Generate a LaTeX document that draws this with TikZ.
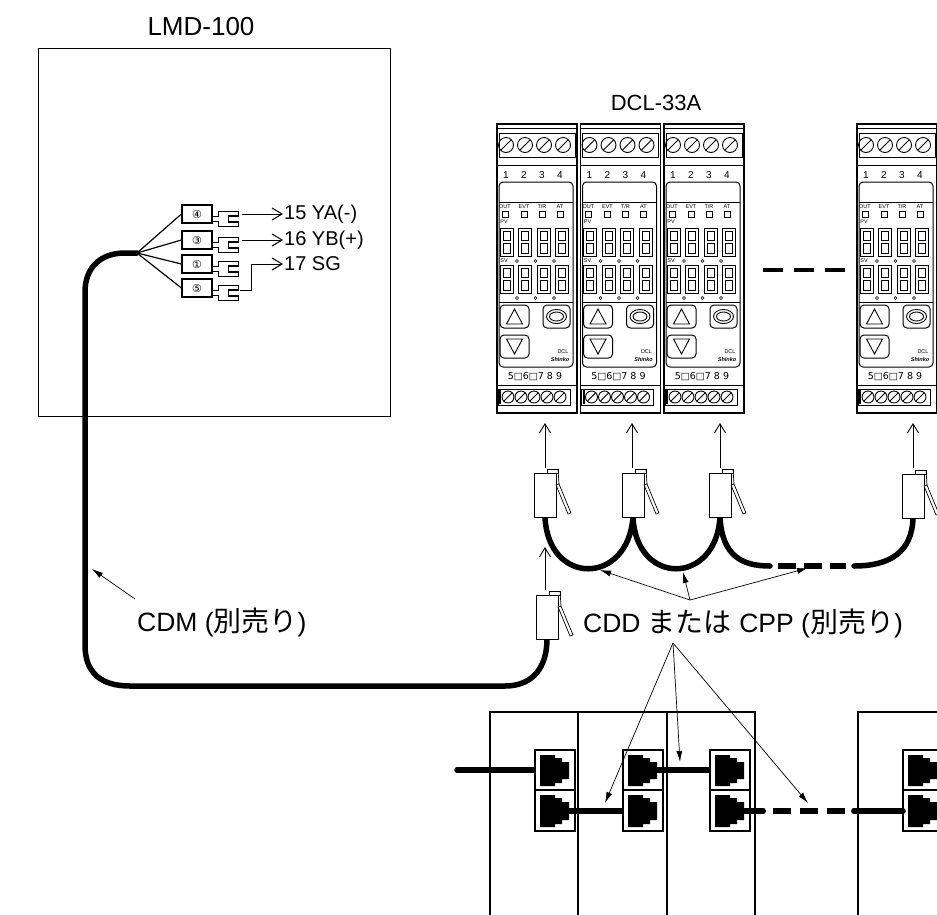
\documentclass[tikz,border=0pt]{standalone}
\usepackage{fontspec}
\setmainfont{Liberation Sans}
\newfontfamily\jpfont{Noto Sans CJK JP}
\newfontfamily\dvfont{DejaVu Sans}
\usetikzlibrary{arrows.meta}
\newcommand\segdigit[2]{%
  \draw (#1,#2) rectangle +(13,28);
  \draw (#1+3,#2+3) rectangle (#1+10,#2+12.5);
  \draw (#1+3,#2+15.5) rectangle (#1+10,#2+25);}
\newcommand\jpw[1]{{\jpfont\fontsize{28}{30}\selectfont #1}}
\begin{document}
\begin{tikzpicture}[x=1pt,y=-1pt,
  big/.style={font=\fontsize{22}{26}\selectfont, inner sep=0pt},
  bigger/.style={font=\fontsize{26.5}{30}\selectfont, inner sep=0pt},
  small/.style={font=\fontsize{20}{22}\selectfont, inner sep=1pt},
  tiny/.style={font=\fontsize{5.5}{6}\selectfont, inner sep=0pt},
  tbox/.style={draw, line width=1.2pt, minimum width=30pt, minimum height=18pt, inner sep=0pt, font=\dvfont\fontsize{11}{11}\selectfont},
  cable/.style={line width=5.5pt, line cap=round, line join=round},
  labarr/.style={line width=1pt, -{Straight Barb[length=10pt,width=12pt]}},
  uparr/.style={line width=0.9pt, -{Straight Barb[length=9pt,width=11pt]}},
  callout/.style={line width=0.7pt, -{Latex[length=11pt,width=6pt]}},
  dcl/.pic={
    \draw[line width=1.2pt] (0,0) rectangle (80,289);
    \draw[line width=0.8pt] (0,4) -- (80,4);
    \draw[line width=1pt] (2,9) rectangle (78,33);
    \foreach \s in {9,28,47,66}{
      \draw[line width=0.9pt] (\s,21) circle[radius=7.5pt];
      \draw[line width=0.9pt] (\s-5,26) -- (\s+5,16);}
    \draw[line width=1pt] (0,41) -- (80,41);
    \foreach \n/\s in {1/9,2/27,3/45,4/63}
      \node[font=\fontsize{10}{10}\selectfont, inner sep=0pt] at (\s,51) {\n};
    \draw[line width=1pt, rounded corners=4pt] (2,58) rectangle (76,243);
    \draw[line width=0.8pt] (2,78) -- (76,78);
    \node[tiny] at (8,83) {OUT};
    \node[tiny] at (27,83) {EVT};
    \node[tiny] at (45,83) {T/R};
    \node[tiny] at (63,83) {AT};
    \foreach \s in {8,27,45,63} \draw[line width=0.6pt] (\s-3,87) rectangle (\s+3,93);
    \node[tiny] at (7,98) {PV};
    \begin{scope}[line width=0.6pt]
      \segdigit{3}{104}\segdigit{21.5}{104}\segdigit{40}{104}\segdigit{58.5}{104}
      \segdigit{3}{141}\segdigit{21.5}{141}\segdigit{40}{141}\segdigit{58.5}{141}
      \foreach \s in {20,38.5,57}{
        \draw (\s,137) circle[radius=1.5pt];
        \draw (\s,174) circle[radius=1.5pt];}
    \end{scope}
    \node[tiny] at (7,137) {SV};
    \draw[line width=0.8pt] (2,178) -- (76,178);
    \draw[line width=1pt, rounded corners=4pt] (3,181) rectangle (32,204);
    \draw[line width=0.9pt] (9.5,200) -- (25.5,200) -- (17.5,185) -- cycle;
    \draw[line width=1pt, rounded corners=4pt] (46,181) rectangle (73,204);
    \draw[line width=0.9pt] (59.5,192.5) ellipse[x radius=10pt, y radius=7pt];
    \draw[line width=0.9pt] (59.5,192.5) ellipse[x radius=7pt, y radius=4.5pt];
    \draw[line width=1pt, rounded corners=4pt] (3,211) rectangle (32,234);
    \draw[line width=0.9pt] (9.5,215) -- (25.5,215) -- (17.5,230) -- cycle;
    \node[tiny] at (66,228) {DCL};
    \node[tiny, font=\fontsize{5.5}{6}\selectfont\bfseries\itshape] at (63,236) {Shinko};
    \node[font=\dvfont\fontsize{9.5}{10}\selectfont, inner sep=0pt] at (38,253) {5□6□7\,\,8\,\,9};
    \draw[line width=1pt] (0,261) -- (80,261);
    \draw[line width=1pt] (1,265) rectangle (73,281);
    \draw[line width=2pt] (3,266) -- (3,280);
    \foreach \s in {11,24,37,50,63}{
      \draw[line width=0.9pt] (\s,273) circle[radius=6pt];
      \draw[line width=0.9pt] (\s-4,277) -- (\s+4,269);}
  },
  plug/.pic={
    \draw[line width=0.9pt, fill=white] (-11,0) rectangle (11,-44);
    \draw[line width=0.9pt] (2,-44) -- (2,-48) -- (13,-48) -- (13,-44) -- (11,-44);
    \draw[line width=0.7pt] (13,-48) -- (14,-33);
    \draw[line width=0.7pt, fill=white] (11,-32) -- (14,-33) -- (26,-4) -- (23,-3) -- cycle;
  },
  jack/.pic={
    \draw[line width=1.6pt, fill=white] (0,0) rectangle (40,81);
    \draw[line width=1.6pt] (0,40) -- (40,40);
    \fill (5,5) -- (20,5) -- (20,8) -- (27,8) -- (27,12) -- (34,12) -- (34,29) -- (27,29) -- (27,33) -- (20,33) -- (20,36) -- (5,36) -- cycle;
    \fill (5,45) -- (20,45) -- (20,48) -- (27,48) -- (27,52) -- (34,52) -- (34,70) -- (27,70) -- (27,74) -- (20,74) -- (20,77) -- (5,77) -- cycle;
  }
]
\useasboundingbox (0,0) rectangle (937,914);

% ---------------- LMD-100 ----------------
\node[bigger, font=\fontsize{26}{30}\selectfont] (lmd) at (201,27) {LMD-100};
\draw[line width=0.9pt] (38,48) rectangle (390,416);

\coordinate (J) at (137,253);
\node[tbox] (t4) at (197,214) {④};
\node[tbox] (t3) at (197,240) {③};
\node[tbox] (t1) at (197,264) {①};
\node[tbox] (t5) at (197,288) {⑤};
\foreach \t in {t4,t3,t1,t5} \draw[line width=1.2pt] (J) -- (\t.west);
\foreach \t in {t4,t3,t1,t5}{
  \draw[line width=1.1pt] ([yshift=-2.5pt]\t.east) -- ++(6,0) -- ++(0,-5) -- ++(20,0) -- ++(0,4.5) -- ++(-10,0) -- ++(0,6) -- ++(10,0) -- ++(0,4.5) -- ++(-20,0) -- ++(0,-5) -- ++(-6,0);
}
\node[small, anchor=west] (l15) at (283,214) {15 YA(-)};
\node[small, anchor=west] (l16) at (283,240) {16 YB(+)};
\node[small, anchor=west] (l17) at (283,264) {17 SG};
\coordinate (a4) at (242,214);
\coordinate (a3) at (242,240);
\coordinate (a1) at (251,264);
\coordinate (a5) at (240,290);
\draw[labarr] (a4) -- (l15.west);
\draw[labarr] (a3) -- (l16.west);
\draw[labarr] (a1) -- (l17.west);
\draw[line width=1pt] (a1) |- (a5);

% CDM cable
\coordinate (PC) at (547,639);
\draw[cable] (J) -- (125,253) .. controls (100,253) and (85,268) .. (85,292)
  -- (85,645) .. controls (85,672) and (100,686) .. (130,686)
  -- (505,686) .. controls (533,686) and (547,667) .. (PC);
\pic at (PC) {plug};
\node[bigger, anchor=west] (cdm) at (137,622) {CDM (\jpw{別売り})};
\coordinate (cdmtail) at (135,599);
\coordinate (cdmtip) at (92,569);
\draw[callout] (cdmtail) -- (cdmtip);

% ---------------- DCL-33A ----------------
\node[big] (dcl) at (656,103) {DCL-33A};
\pic at (497,124) {dcl};
\pic at (580.5,124) {dcl};
\pic at (664,124) {dcl};
\pic at (857,124) {dcl};
\coordinate (d1) at (763,270);
\coordinate (d2) at (845,270);
\draw[line width=4.5pt, dash pattern=on 20pt off 11pt] (d1) -- (d2);

% plugs
\coordinate (P1) at (545,517);
\coordinate (P2) at (633,517);
\coordinate (P3) at (720,517);
\coordinate (P4) at (913,518);
\coordinate (Q1) at (770,566);
\coordinate (Q2) at (778,566);
\coordinate (Q3) at (846,566);
\coordinate (Q4) at (854,566);
\draw[cable] (P1) .. controls (548,586) and (628,586) .. (P2);
\draw[cable] (P2) .. controls (636,586) and (716,586) .. (P3);
\draw[cable] (P3) .. controls (722,556) and (742,566) .. (Q1);
\draw[cable, line cap=butt, dash pattern=on 18pt off 8pt] (Q2) -- (Q3);
\draw[cable] (Q4) .. controls (890,566) and (912,552) .. (P4);
\foreach \p in {P1,P2,P3,P4} \pic at (\p) {plug};
\foreach \x in {545,632,720,913}{
  \coordinate (u\x) at (\x,423);
  \coordinate (b\x) at (\x,468);
  \draw[uparr] (b\x) -- (u\x);}
\coordinate (cu) at (545,590);
\coordinate (ct) at (545,547);
\draw[uparr] (cu) -- (ct);

% CDD label and callouts
\node[bigger, anchor=west] (cdd) at (583,623) {CDD \jpw{または} CPP (\jpw{別売り})};
\coordinate (o1) at (690,600);
\coordinate (o2) at (673,643);
\coordinate (k1) at (600,570);
\coordinate (k2) at (683,572);
\coordinate (k3) at (808,568);
\draw[callout] (o1) -- (k1);
\draw[callout] (o1) -- (k2);
\draw[callout] (o1) -- (k3);

% ---------------- bottom modules ----------------
\draw[line width=2.2pt] (490,920) -- (490,712) -- (755,712) -- (755,920);
\draw[line width=2.2pt] (578,712) -- (578,920);
\draw[line width=2.2pt] (667,712) -- (667,920);
\draw[line width=2.2pt] (858,920) -- (858,712) -- (945,712);

\coordinate (c0) at (457,770);
\coordinate (J1u) at (545,770);
\coordinate (J1d) at (565,811);
\coordinate (J2d) at (633,811);
\coordinate (J2u) at (652,770);
\coordinate (J3u) at (720,770);
\coordinate (J3d) at (740,811);
\coordinate (e1) at (763,811);
\coordinate (e2) at (773,811);
\coordinate (e3) at (846,811);
\coordinate (e4) at (854,811);
\coordinate (J4d) at (915,811);
\draw[cable] (c0) -- (J1u);
\draw[cable] (J1d) -- (J2d);
\draw[cable] (J2u) -- (J3u);
\draw[cable] (J3d) -- (e1);
\draw[cable, line cap=butt, dash pattern=on 18pt off 9pt] (e2) -- (e3);
\draw[cable] (e4) -- (J4d);
\pic at (535,750) {jack};
\pic at (623,750) {jack};
\pic at (710,750) {jack};
\pic at (903,750) {jack};
\draw[cable] (J3d) -- (e1);
\draw[cable] (J1d) -- (575,811);
\draw[cable] (J2u) -- (662,770);
\draw[cable] (e4) -- (903,811);

\coordinate (m1) at (605,803);
\coordinate (m2) at (680,762);
\coordinate (m3) at (808,803);
\draw[callout] (o2) -- (m1);
\draw[callout] (o2) -- (m2);
\draw[callout] (o2) -- (m3);
\end{tikzpicture}
\end{document}
